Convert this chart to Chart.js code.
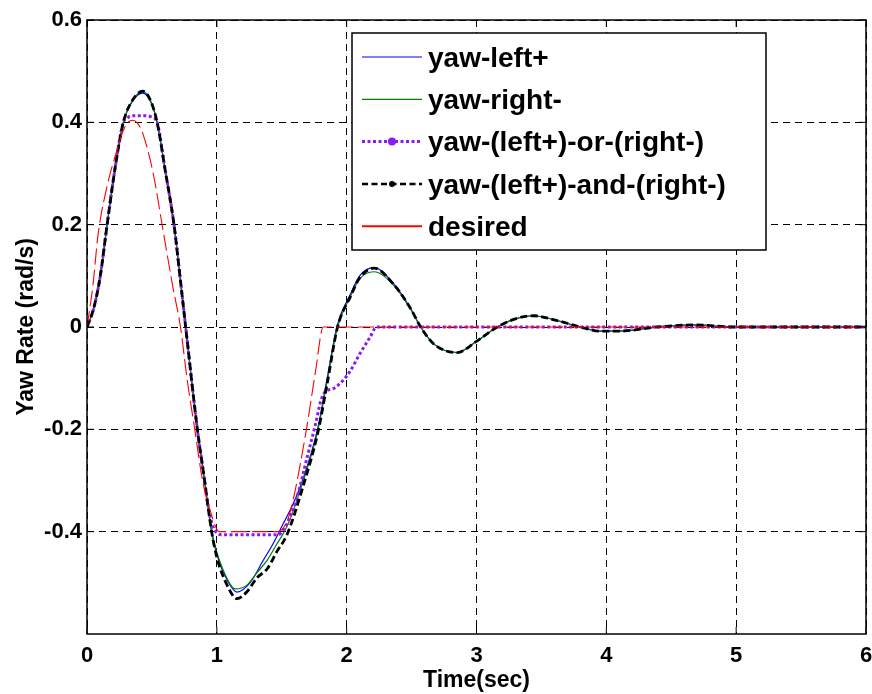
<!DOCTYPE html>
<html>
<head>
<meta charset="utf-8">
<script src="https://cdn.jsdelivr.net/npm/chart.js@4.4.1/dist/chart.umd.min.js"></script>
<style>
  body { margin: 0; background: #fff; }
</style>
</head>
<body>
<canvas id="yawChart" width="872" height="694"></canvas>
<script>
const fontFam = "'Liberation Sans', Arial, Helvetica, sans-serif";

// x ticks (sec) and y ticks (rad/s)
const xTicks = [0, 1, 2, 3, 4, 5, 6];
const yTicks = [-0.4, -0.2, 0, 0.2, 0.4, 0.6];

// desired yaw rate
const tDesired = [0, 0.045, 0.085, 0.15, 0.23, 0.29, 0.35, 0.39, 0.43, 0.51, 0.585, 0.66, 0.72, 0.77, 0.83, 0.89, 0.95, 1.02, 1.47, 1.54, 1.59, 1.69, 1.76, 1.82, 6.0];
const yDesired = [0, 0.08, 0.18, 0.27, 0.345, 0.39, 0.404, 0.398, 0.378, 0.30, 0.19, 0.08, 0, -0.1, -0.2, -0.30, -0.36, -0.40, -0.40, -0.38, -0.335, -0.2, -0.087, 0, 0];

// yaw-left+
const tLeft = [0, 0.05, 0.10, 0.155, 0.216, 0.28, 0.355, 0.43, 0.485, 0.54, 0.60, 0.67, 0.72, 0.76, 0.85, 0.90, 0.96, 1.0, 1.08, 1.155, 1.255, 1.36, 1.43, 1.51, 1.58, 1.66, 1.78, 1.85, 1.93, 2.03, 2.10, 2.21, 2.36, 2.49, 2.57, 2.67, 2.85, 3.0, 3.16, 3.3, 3.44, 3.6, 3.8, 3.95, 4.1, 4.39, 4.67, 5.0, 5.5, 6.0];
const yLeft = [0, 0.035, 0.096, 0.2, 0.31, 0.40, 0.443, 0.457, 0.443, 0.40, 0.31, 0.20, 0.09, 0, -0.2, -0.29, -0.40, -0.445, -0.495, -0.518, -0.50, -0.455, -0.425, -0.385, -0.35, -0.30, -0.195, -0.10, 0.005, 0.065, 0.10, 0.116, 0.085, 0.037, 0, -0.033, -0.05, -0.028, 0, 0.016, 0.022, 0.014, 0, -0.008, -0.008, 0, 0.004, 0, 0, 0];

// yaw-right-
const tRight = [0, 0.05, 0.10, 0.155, 0.216, 0.28, 0.355, 0.43, 0.485, 0.54, 0.60, 0.67, 0.72, 0.76, 0.85, 0.90, 0.96, 1.0, 1.08, 1.14, 1.23, 1.31, 1.39, 1.46, 1.54, 1.66, 1.78, 1.85, 1.93, 2.03, 2.10, 2.21, 2.36, 2.49, 2.57, 2.67, 2.85, 3.0, 3.16, 3.3, 3.44, 3.6, 3.8, 3.95, 4.1, 4.39, 4.67, 5.0, 5.5, 6.0];
const yRight = [0, 0.035, 0.096, 0.2, 0.31, 0.40, 0.445, 0.46, 0.445, 0.40, 0.31, 0.20, 0.09, 0, -0.2, -0.29, -0.40, -0.44, -0.492, -0.512, -0.505, -0.48, -0.455, -0.425, -0.39, -0.305, -0.2, -0.105, 0, 0.06, 0.094, 0.108, 0.082, 0.036, 0, -0.033, -0.05, -0.028, 0, 0.016, 0.022, 0.014, 0, -0.008, -0.008, 0, 0.004, 0, 0, 0];

// yaw-(left+)-or-(right-)
const tOr = [0, 0.05, 0.10, 0.155, 0.216, 0.28, 0.31, 0.33, 0.37, 0.45, 0.50, 0.54, 0.60, 0.67, 0.72, 0.76, 0.85, 0.90, 0.93, 0.97, 1.01, 1.04, 1.47, 1.54, 1.62, 1.70, 1.76, 1.80, 1.83, 1.90, 1.97, 2.03, 2.10, 2.18, 2.23, 6.0];
const yOr = [0, 0.035, 0.096, 0.2, 0.31, 0.40, 0.408, 0.412, 0.413, 0.413, 0.41, 0.40, 0.31, 0.20, 0.09, 0, -0.2, -0.29, -0.345, -0.39, -0.404, -0.406, -0.406, -0.385, -0.33, -0.25, -0.19, -0.145, -0.128, -0.12, -0.105, -0.085, -0.053, -0.02, 0, 0];

// yaw-(left+)-and-(right-)
const tAnd = [0, 0.05, 0.10, 0.155, 0.216, 0.28, 0.355, 0.43, 0.485, 0.54, 0.60, 0.67, 0.72, 0.76, 0.85, 0.90, 0.96, 1.0, 1.08, 1.155, 1.23, 1.31, 1.39, 1.46, 1.54, 1.66, 1.78, 1.85, 1.93, 2.03, 2.10, 2.21, 2.36, 2.49, 2.57, 2.67, 2.85, 3.0, 3.16, 3.3, 3.44, 3.6, 3.8, 3.95, 4.1, 4.39, 4.67, 5.0, 5.5, 6.0];
const yAnd = [0, 0.035, 0.096, 0.2, 0.31, 0.40, 0.445, 0.461, 0.445, 0.40, 0.31, 0.20, 0.09, 0, -0.2, -0.29, -0.40, -0.45, -0.505, -0.531, -0.518, -0.49, -0.472, -0.44, -0.406, -0.315, -0.204, -0.11, 0, 0.06, 0.096, 0.115, 0.084, 0.037, 0, -0.033, -0.05, -0.028, 0, 0.016, 0.022, 0.014, 0, -0.008, -0.008, 0, 0.004, 0, 0, 0];

function pts(ts, ys) {
    return ts.map((t, i) => ({ x: t, y: ys[i] }));
}

// legend sample styles (drawn by the boxed legend plugin below)
const legendStyle = [
    { dash: [], width: 1.2, dot: 0 },
    { dash: [], width: 1.2, dot: 0 },
    { dash: [3, 2.5], width: 3, dot: 4 },
    { dash: [6, 3.5], width: 2.5, dot: 3 },
    { dash: [], width: 2, dot: 0 }
];

const boxLegend = {
    id: 'boxLegend',
    afterDraw(chart) {
        const ctx = chart.ctx;
        const x0 = 352, y0 = 33, w = 414, h = 217;
        ctx.save();
        ctx.fillStyle = '#fff';
        ctx.fillRect(x0, y0, w, h);
        ctx.strokeStyle = '#000';
        ctx.lineWidth = 1.5;
        ctx.strokeRect(x0, y0, w, h);
        ctx.font = 'bold 28px ' + fontFam;
        ctx.textBaseline = 'middle';
        chart.data.datasets.forEach((ds, i) => {
            const st = legendStyle[i];
            const yy = 57 + i * 42.3;
            ctx.strokeStyle = ds.borderColor;
            ctx.lineWidth = st.width;
            ctx.setLineDash(st.dash);
            ctx.beginPath();
            ctx.moveTo(362, yy);
            ctx.lineTo(422, yy);
            ctx.stroke();
            ctx.setLineDash([]);
            if (st.dot) {
                ctx.fillStyle = ds.borderColor;
                ctx.beginPath();
                ctx.arc(392, yy, st.dot, 0, Math.PI * 2);
                ctx.fill();
            }
            ctx.fillStyle = '#000';
            ctx.fillText(ds.label, 428, yy + 2);
        });
        ctx.restore();
    }
};

// solid axes box with inward tick marks on all four sides
const axesBox = {
    id: 'axesBox',
    afterDatasetsDraw(chart) {
        const ctx = chart.ctx;
        const a = chart.chartArea;
        const xs = chart.scales.x, ys = chart.scales.y;
        ctx.save();
        ctx.strokeStyle = '#000';
        ctx.lineWidth = 1.5;
        ctx.setLineDash([]);
        ctx.strokeRect(a.left, a.top, a.right - a.left, a.bottom - a.top);
        ctx.lineWidth = 1;
        ctx.beginPath();
        xTicks.forEach(v => {
            const px = xs.getPixelForValue(v);
            ctx.moveTo(px, a.bottom); ctx.lineTo(px, a.bottom - 7);
            ctx.moveTo(px, a.top); ctx.lineTo(px, a.top + 7);
        });
        yTicks.forEach(v => {
            const py = ys.getPixelForValue(v);
            ctx.moveTo(a.left, py); ctx.lineTo(a.left + 7, py);
            ctx.moveTo(a.right, py); ctx.lineTo(a.right - 7, py);
        });
        ctx.stroke();
        ctx.restore();
    }
};

const lineBase = { pointRadius: 0, fill: false, cubicInterpolationMode: 'monotone' };

new Chart(document.getElementById('yawChart'), {
    type: 'line',
    data: {
        datasets: [
            { ...lineBase, label: 'yaw-left+', data: pts(tLeft, yLeft), borderColor: '#0000ff', borderWidth: 1.2, order: 4 },
            { ...lineBase, label: 'yaw-right-', data: pts(tRight, yRight), borderColor: '#008000', borderWidth: 1.2, order: 3 },
            { ...lineBase, label: 'yaw-(left+)-or-(right-)', data: pts(tOr, yOr), borderColor: '#8a1cf0', borderWidth: 3, borderDash: [3, 2.5], order: 2 },
            { ...lineBase, label: 'yaw-(left+)-and-(right-)', data: pts(tAnd, yAnd), borderColor: '#000000', borderWidth: 2.8, borderDash: [7, 3.5], order: 1 },
            { ...lineBase, label: 'desired', data: pts(tDesired, yDesired), borderColor: '#ff0000', borderWidth: 1.1, borderDash: [16, 5], order: 0 }
        ]
    },
    options: {
        responsive: false,
        animation: false,
        devicePixelRatio: 1,
        layout: { padding: { left: 0, top: 20, right: 6, bottom: 0 } },
        plugins: {
            legend: { display: false },
            tooltip: { enabled: false }
        },
        scales: {
            x: {
                type: 'linear',
                min: 0,
                max: 6,
                afterFit: s => { s.height = 60; s.paddingLeft = 0; s.paddingRight = 0; },
                afterBuildTicks: s => { s.ticks = xTicks.map(v => ({ value: v })); },
                grid: { color: '#000', lineWidth: 1, drawTicks: false },
                border: { display: false, dash: [7, 5] },
                ticks: {
                    color: '#000',
                    padding: 9,
                    font: { family: fontFam, size: 22, weight: 'bold' },
                    callback: v => String(v)
                },
                title: {
                    display: true,
                    text: 'Time(sec)',
                    color: '#000',
                    padding: { top: 0, bottom: 0 },
                    font: { family: fontFam, size: 23, weight: 'bold' }
                }
            },
            y: {
                min: -0.6,
                max: 0.6,
                afterFit: s => { s.width = 87; s.paddingTop = 0; s.paddingBottom = 0; },
                afterBuildTicks: s => { s.ticks = yTicks.map(v => ({ value: v })); },
                grid: { color: '#000', lineWidth: 1, drawTicks: false },
                border: { display: false, dash: [7, 5] },
                ticks: {
                    color: '#000',
                    padding: 5,
                    font: { family: fontFam, size: 22, weight: 'bold' },
                    callback: v => (Math.abs(v) < 1e-9 ? '0' : v.toFixed(1))
                },
                title: {
                    display: true,
                    text: 'Yaw Rate (rad/s)',
                    color: '#000',
                    padding: { top: 13, bottom: 0 },
                    font: { family: fontFam, size: 23, weight: 'bold' }
                }
            }
        }
    },
    plugins: [axesBox, boxLegend]
});
</script>
</body>
</html>
